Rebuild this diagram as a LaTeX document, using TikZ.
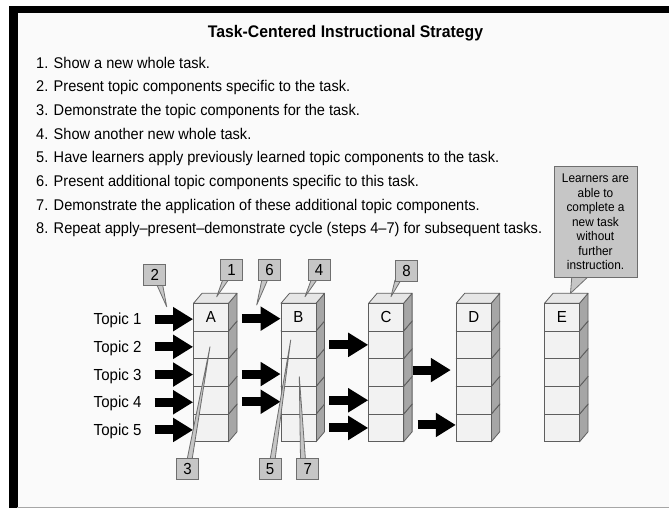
\documentclass[tikz,border=0pt]{standalone}
\usepackage{fontspec}
\setmainfont[FakeStretch=0.94]{Liberation Sans}
\usetikzlibrary{arrows.meta,calc}
\definecolor{bgc}{HTML}{FAFAFA}
\definecolor{frontc}{HTML}{F2F2F2}
\definecolor{topc}{HTML}{E6E6E6}
\definecolor{sidec}{HTML}{A6A6A6}
\definecolor{edgec}{HTML}{5E5E5E}
\definecolor{callc}{HTML}{C6C6C6}
\definecolor{calledge}{HTML}{6E6E6E}
\newcommand{\cubecol}[3]{%
  \foreach \r in {5,4,3,2,1} {
    \pgfmathsetmacro{\yt}{303.3+27.7*(\r-1)}
    \filldraw[fill=sidec,draw=edgec,line width=0.8pt,line join=round] (#2+35,\yt) -- ++(8.5,-10) -- ++(0,27.7) -- ++(-8.5,10) -- cycle;
    \filldraw[fill=topc,draw=edgec,line width=0.8pt,line join=round] (#2,\yt) -- ++(8.5,-10) -- ++(35,0) -- ++(-8.5,10) -- cycle;
    \node[cell] (#1\r) at (#2+17.5,\yt+13.85) {};
  }
  \node[font=\fontsize{16}{16}\selectfont] (lab#1) at (#11) {#3};
}
\tikzset{
  cell/.style={draw=edgec,fill=frontc,line width=0.8pt,minimum width=35pt,minimum height=27.7pt,inner sep=0pt},
  blk/.style={line width=9pt,-{Triangle[width=23pt,length=20pt]},black},
  numbox/.style={draw=calledge,fill=callc,line width=0.8pt,minimum width=22pt,minimum height=21pt,inner sep=0pt,font=\fontsize{16}{16}\selectfont},
  tail/.style={fill=callc,draw=calledge,line width=0.8pt,line join=round},
  listtxt/.style={anchor=base west,inner sep=0pt,font=\fontsize{15.5}{18}\selectfont},
  topictxt/.style={anchor=base east,inner sep=0pt,font=\fontsize{16}{18}\selectfont}
}
\begin{document}
\begin{tikzpicture}[x=1pt,y=-1pt]
\useasboundingbox (0,0) rectangle (669,508);
\fill[bgc] (9,6) rectangle (669,508);
\fill[black] (9,6) rectangle (669,13);
\fill[black] (9,6) rectangle (17.5,508);
\draw[black!35,line width=1pt] (17,507.5) -- (669,507.5);

\node[anchor=base,inner sep=0pt,font=\bfseries\fontsize{16.8}{19}\selectfont] (title) at (345.5,37.8) {Task-Centered Instructional Strategy};
\node[listtxt] (s1) at (36,68.3) {1. Show a new whole task.};
\node[listtxt] (s2) at (36,92.0) {2. Present topic components specific to the task.};
\node[listtxt] (s3) at (36,115.6) {3. Demonstrate the topic components for the task.};
\node[listtxt] (s4) at (36,139.3) {4. Show another new whole task.};
\node[listtxt] (s5) at (36,162.9) {5. Have learners apply previously learned topic components to the task.};
\node[listtxt] (s6) at (36,186.6) {6. Present additional topic components specific to this task.};
\node[listtxt] (s7) at (36,210.3) {7. Demonstrate the application of these additional topic components.};
\node[listtxt] (s8) at (36,233.9) {8. Repeat apply--present--demonstrate cycle (steps 4--7) for subsequent tasks.};

% columns
\cubecol{A}{193.5}{A}
\cubecol{B}{281.0}{B}
\cubecol{C}{368.6}{C}
\cubecol{D}{456.2}{D}
\cubecol{E}{544.5}{E}

% topic labels
\foreach \i in {1,...,5} {
  \node[topictxt] (tp\i) at ($(A\i.west)+(-51.5,7.5)$) {Topic \i};
}

% arrows into A
\foreach \i in {1,...,5} {
  \coordinate (ta\i) at ($(A\i.west)+(-38.5,2)$);
  \draw[blk] (ta\i) -- (ta\i -| A\i.west);
}
% arrows into B
\foreach \i in {1,3,4} {
  \coordinate (tb\i) at ($(B\i.west)+(-38.8,1.5)$);
  \draw[blk] (tb\i) -- (tb\i -| B\i.west);
}
% arrows into C
\foreach \i in {2,4,5} {
  \coordinate (tc\i) at ($(C\i.west)+(-39,0)$);
  \draw[blk] (tc\i) -- (tc\i -| C\i.west);
}
% arrows into D
\coordinate (td3) at ($(D3.west)+(-43.3,-2.5)$);
\draw[blk,shorten >=5pt] (td3) -- (td3 -| D3.west);
\coordinate (td5) at ($(D5.west)+(-38.3,-3)$);
\draw[blk] (td5) -- (td5 -| D5.west);

% numbered callouts (tail first, box on top)
\coordinate (c2) at (154.7,275);   \coordinate (p2) at (166.7,306.7);
\filldraw[tail] (156.5,284) -- (p2) -- (162.5,284) -- cycle;
\node[numbox] (n2) at (c2) {2};

\coordinate (c1) at (231.5,270); \coordinate (p1) at (216.7,296.7);
\filldraw[tail] (223,279) -- (p1) -- (229,279) -- cycle;
\node[numbox] (n1) at (c1) {1};

\coordinate (c6) at (269.5,270);   \coordinate (p6) at (256.7,305);
\filldraw[tail] (262,279) -- (p6) -- (268,279) -- cycle;
\node[numbox] (n6) at (c6) {6};

\coordinate (c4) at (319,270);   \coordinate (p4) at (305,296.7);
\filldraw[tail] (311.5,279) -- (p4) -- (317.5,279) -- cycle;
\node[numbox] (n4) at (c4) {4};

\coordinate (c8) at (406.5,271);   \coordinate (p8) at (391,296.7);
\filldraw[tail] (395,280) -- (p8) -- (401,280) -- cycle;
\node[numbox] (n8) at (c8) {8};

\coordinate (c3) at (187.5,469); \coordinate (p3) at (210,346.7);
\filldraw[tail] (187,460) -- (p3) -- (192,460) -- cycle;
\node[numbox] (n3) at (c3) {3};

\coordinate (c5) at (270,469);   \coordinate (p5) at (290.7,340);
\filldraw[tail] (270,460) -- (p5) -- (275,460) -- cycle;
\node[numbox] (n5) at (c5) {5};

\coordinate (c7) at (307.8,469); \coordinate (p7) at (299.3,376.7);
\filldraw[tail] (300.5,460) -- (p7) -- (305.5,460) -- cycle;
\node[numbox] (n7) at (c7) {7};

% big callout
\coordinate (cL) at (595.5,222); \coordinate (pL) at (570.5,293.3);
\filldraw[tail] (572,274) -- (pL) -- (591,274) -- cycle;
\node[draw=calledge,fill=callc,line width=0.8pt,minimum width=83pt,minimum height=110.6pt,inner sep=0pt,align=center,font=\fontsize{12.6}{14.45}\selectfont] (nL) at (cL) {Learners are\\able to\\complete a\\new task\\without\\further\\instruction.};
\end{tikzpicture}
\end{document}
